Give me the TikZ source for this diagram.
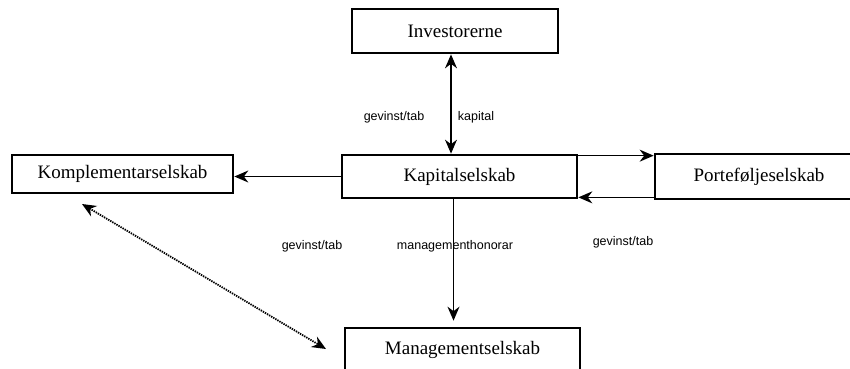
\documentclass[tikz,border=0pt]{standalone}
\usepackage{fontspec}
\setmainfont{Liberation Serif}
\newfontfamily\labelfont{Liberation Sans}
\usetikzlibrary{arrows.meta}

\begin{document}
\begin{tikzpicture}[x=1pt,y=-1pt,
    selskab/.style={draw,line width=2.7pt,inner sep=0pt,font=\fontsize{19}{21}\selectfont},
    pil/.style={line width=1.4pt,-{Stealth[length=14pt,width=12pt]}},
    tekst/.style={font=\labelfont\fontsize{12.5}{14}\selectfont}]
    \useasboundingbox (0,0) rectangle (850,368);
    \clip (0,0) rectangle (850,368);
    \node[selskab,minimum width=206pt,minimum height=44pt] (inv) at (455,31) {Investorerne};
    \node[selskab,minimum width=235pt,minimum height=43pt] (kap) at (459.5,176.5) {Kapitalselskab};
    \node[selskab,minimum width=221pt,minimum height=38pt] (kom) at (122.5,174) {Komplementarselskab};
    \node[selskab,minimum width=208pt,minimum height=45pt] (port) at (759,176.5) {Porteføljeselskab};
    \node[selskab,minimum width=235pt,minimum height=44pt] (mgmt) at (462.5,350) {Managementselskab};
    % pile
    \draw[pil,{Stealth[length=14pt,width=12pt]}-{Stealth[length=14pt,width=12pt]}] ([xshift=-4pt]inv.south) -- ([xshift=-4pt]inv.south |- kap.north);
    \draw[pil] (kap.west) -- (kap.west -| kom.east);
    \draw[pil] ([yshift=-2pt]kap.north east) -- ([yshift=-2pt]kap.north east -| port.west);
    \draw[pil] ([yshift=3pt]port.south west) -- ([yshift=3pt]port.south west -| kap.east);
    \draw[pil,shorten >=6pt] ([xshift=-6pt]kap.south) -- ([xshift=-6pt]kap.south |- mgmt.north);
    \coordinate (dtop) at (82,204);
    \coordinate (dbot) at (326,349);
    \draw[pil,densely dotted,line width=1.8pt,{Stealth[length=14pt,width=12pt]}-{Stealth[length=14pt,width=12pt]}] (dtop) -- (dbot);
    % tekster
    \node[tekst] (g1) at (394,117) {gevinst/tab};
    \node[tekst] (kapital) at (476,117) {kapital};
    \node[tekst] (g2) at (312,246) {gevinst/tab};
    \node[tekst] (honorar) at (455,246) {managementhonorar};
    \node[tekst] (g3) at (623,242) {gevinst/tab};
\end{tikzpicture}
\end{document}
